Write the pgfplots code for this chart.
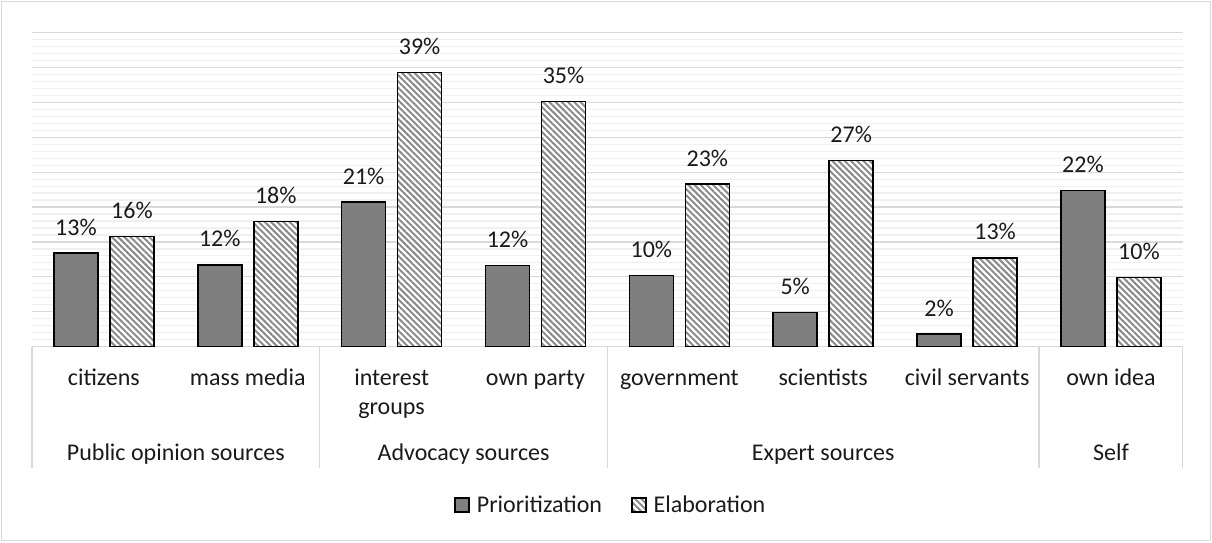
\documentclass[border=0pt]{standalone}
\usepackage{pgfplots}
\pgfplotsset{compat=1.18}
\usepackage{fontspec}
\setmainfont{Carlito}
\usetikzlibrary{patterns.meta}
\definecolor{gridmaj}{HTML}{D9D9D9}
\definecolor{gridmin}{HTML}{F0F0F0}
\definecolor{barfill}{HTML}{7F7F7F}
\definecolor{hatch}{HTML}{8A8A8A}
\definecolor{txt}{HTML}{1A1A1A}
\begin{document}
\begin{tikzpicture}[x=1pt,y=1pt,font=\fontsize{24}{29}\selectfont]
\useasboundingbox (0,0) rectangle (1212,542);
\draw[gridmaj, line width=1.2pt] (1.5,1.5) rectangle (1210.5,540.5);
\begin{axis}[
  at={(32pt,195.4pt)}, anchor=south west,
  scale only axis, width=1151pt, height=314pt,
  xmin=-0.5, xmax=7.5, ymin=0, ymax=45,
  ybar=12pt, bar width=44pt,
  xtick={0,...,7},
  xticklabels={citizens, mass media, {\begin{tabular}[t]{@{}c@{}}interest\\groups\end{tabular}}, own party, government, scientists, civil servants, own idea},
  xticklabel style={anchor=base, yshift=-38.4pt, text=txt, font=\fontsize{24}{29}\selectfont},
  ytick={0,5,...,45}, yticklabels={}, minor y tick num=4,
  ymajorgrids, yminorgrids,
  major grid style={gridmaj, line width=1.2pt},
  minor grid style={gridmin, line width=1.2pt},
  axis line style={draw=none},
  major tick length=0pt, minor tick length=0pt,
  /pgf/number format/assume math mode=true,
  nodes near coords={\pgfmathprintnumber[fixed,precision=0,assume math mode=true]{\pgfplotspointmeta}\%},
  nodes near coords style={anchor=base, yshift=18pt, text=txt, font=\fontsize{24}{29}\selectfont},
  legend style={draw=none, fill=none, at={(0.503,-0.504)}, anchor=center,
    legend columns=2, font=\fontsize{24}{29}\selectfont, text=txt,
    /tikz/every odd column/.append style={column sep=5pt},
    /tikz/every even column/.append style={column sep=27pt}},
  legend image code/.code={\draw[#1] (0pt,-7pt) rectangle (14pt,7pt);},
  clip=false,
]
\addplot[draw=black, line width=1.5pt, fill=barfill] coordinates {
  (0,13.4) (1,11.7) (2,20.7) (3,11.6) (4,10.2) (5,4.9) (6,1.8) (7,22.4)};
\addplot[draw=black, line width=1.5pt, preaction={fill=white},
  pattern={Lines[angle=-45, distance=4.4pt, line width=2pt]}, pattern color=hatch] coordinates {
  (0,15.8) (1,17.9) (2,39.3) (3,35.1) (4,23.3) (5,26.7) (6,12.7) (7,9.9)};
\legend{Prioritization, Elaboration}
\draw[gridmaj, line width=1.2pt] (axis cs:-0.5,0) -- ++(0pt,-121.4pt);
\draw[gridmaj, line width=1.2pt] (axis cs:1.5,0) -- ++(0pt,-121.4pt);
\draw[gridmaj, line width=1.2pt] (axis cs:3.5,0) -- ++(0pt,-121.4pt);
\draw[gridmaj, line width=1.2pt] (axis cs:6.5,0) -- ++(0pt,-121.4pt);
\draw[gridmaj, line width=1.2pt] (axis cs:7.5,0) -- ++(0pt,-121.4pt);
\node[anchor=base, text=txt] at ([yshift=-114pt]axis cs:0.5,0) {Public opinion sources};
\node[anchor=base, text=txt] at ([yshift=-114pt]axis cs:2.5,0) {Advocacy sources};
\node[anchor=base, text=txt] at ([yshift=-114pt]axis cs:5,0) {Expert sources};
\node[anchor=base, text=txt] at ([yshift=-114pt]axis cs:7,0) {Self};
\end{axis}
\end{tikzpicture}
\end{document}
